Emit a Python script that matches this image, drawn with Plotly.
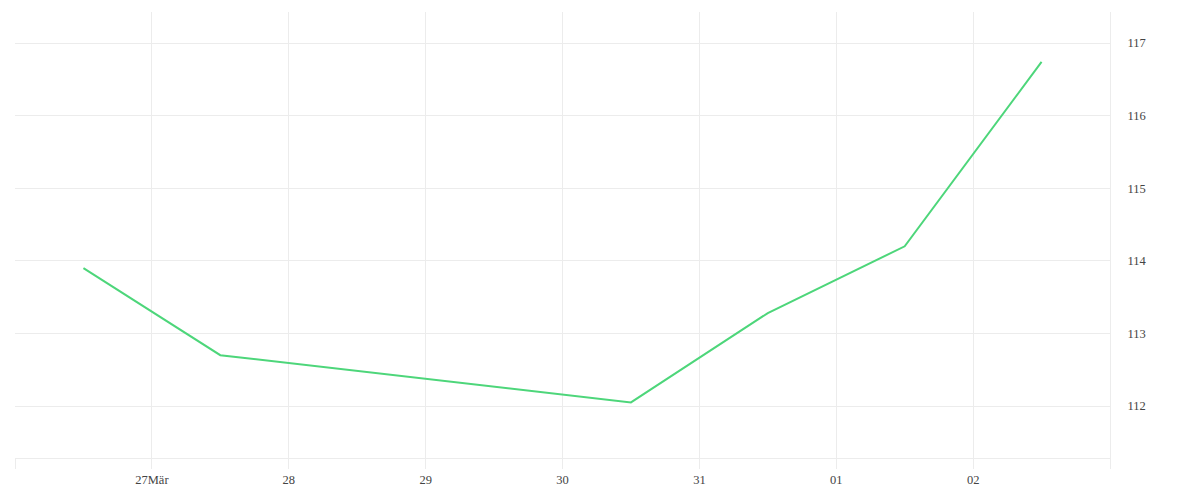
import plotly.graph_objects as go

dates = ["2020-03-26 12:00", "2020-03-27 12:00", "2020-03-30 12:00",
         "2020-03-31 12:00", "2020-04-01 12:00", "2020-04-02 12:00"]
values = [113.90, 112.70, 112.05, 113.28, 114.20, 116.74]

tick_dates = ["2020-03-26", "2020-03-27", "2020-03-28", "2020-03-29", "2020-03-30",
              "2020-03-31", "2020-04-01", "2020-04-02", "2020-04-03"]
tick_labels = ["", "27Mär", "28", "29", "30", "31", "01", "02", ""]
y_ticks = [112, 113, 114, 115, 116, 117]

grid = "#ececec"
font = dict(family="Liberation Serif, serif", size=12.5, color="#444")

fig = go.Figure(go.Scatter(x=dates, y=values, mode="lines",
                           line=dict(color="#4dd67a", width=2)))

fig.update_layout(
    width=1200, height=500,
    margin=dict(l=7, r=98, t=4, b=50),
    paper_bgcolor="white", plot_bgcolor="white",
    showlegend=False, font=font,
    xaxis=dict(type="date", range=["2020-03-26", "2020-04-03"],
               tickmode="array", tickvals=tick_dates, ticktext=tick_labels,
               showgrid=True, gridcolor=grid, gridwidth=1,
               ticks="outside", ticklen=10, tickcolor=grid, tickwidth=1,
               showline=True, linecolor=grid, linewidth=1,
               zeroline=False, tickfont=font),
    yaxis=dict(side="right", range=[111.284, 117.427],
               tickmode="array", tickvals=y_ticks,
               showgrid=True, gridcolor=grid, gridwidth=1,
               showline=True, linecolor=grid, linewidth=1,
               ticks="outside", ticklen=14, tickcolor="rgba(0,0,0,0)",
               zeroline=False, tickfont=font),
)

fig.write_html("out.html")
